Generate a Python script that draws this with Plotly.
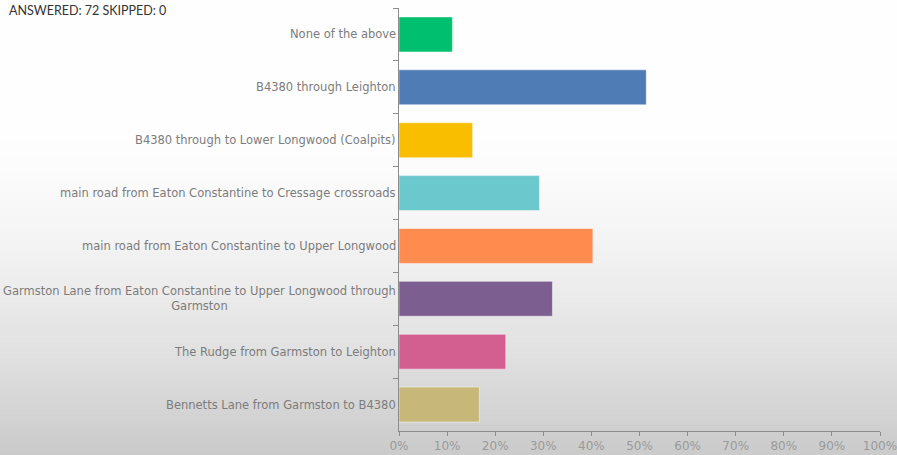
import plotly.graph_objects as go

# ---- data (top to bottom, as shown) ----
categories = [
    "None of the above",
    "B4380 through Leighton",
    "B4380 through to Lower Longwood (Coalpits)",
    "main road from Eaton Constantine to Cressage crossroads",
    "main road from Eaton Constantine to Upper Longwood",
    "Garmston Lane from Eaton Constantine to Upper Longwood through<br>Garmston",
    "The Rudge from Garmston to Leighton",
    "Bennetts Lane from Garmston to B4380",
]
percent_values = [11.1, 51.4, 15.3, 29.2, 40.3, 31.9, 22.2, 16.7]
bar_colors = ["#00BF6F", "#507CB6", "#F9BE00", "#6BC8CD",
              "#FF8B4F", "#7D5E90", "#D25F90", "#C7B879"]
x_tick_values = [0, 10, 20, 30, 40, 50, 60, 70, 80, 90, 100]
x_tick_labels = [f"{v}%" for v in x_tick_values]
header_text = "ANSWERED: 72 SKIPPED: 0"

# ---- layout geometry ----
W, H = 897, 455
ML, MR, MT, MB = 399, 17, 8, 24
PW, PH = W - ML - MR, H - MT - MB

fig = go.Figure(
    go.Bar(
        y=categories,
        x=percent_values,
        orientation="h",
        width=0.66,
        marker=dict(color=bar_colors,
                    line=dict(color="rgba(255,255,255,0.45)", width=1)),
        hoverinfo="x+y",
    )
)

# background gradient (white at top, grey at bottom)
shapes = []
N = 90
for i in range(N):
    y0px = i * H / N
    y1px = (i + 1) * H / N
    f = (y0px + y1px) / 2 / H
    t = max(0.0, (f - 0.28) / 0.72)
    g = int(round(254 - 52 * t ** 1.5))
    shapes.append(dict(
        type="rect", xref="paper", yref="paper", layer="below",
        x0=-ML / PW - 0.01, x1=1 + MR / PW + 0.01,
        y0=(H - MB - y1px) / PH - 0.001, y1=(H - MB - y0px) / PH + 0.001,
        line=dict(width=0), fillcolor=f"rgb({g},{g},{g})",
    ))

annotations = [
    dict(text=header_text, xref="paper", yref="paper",
         x=-ML / PW + 7 / PW, y=1 + MT / PH - 1 / PH,
         xanchor="left", yanchor="top", showarrow=False,
         font=dict(family="Lato, DejaVu Sans, sans-serif", size=12.5, color="#333333")),
]
for c in categories:
    annotations.append(dict(
        text=c, xref="paper", yref="y", x=0, y=c,
        xanchor="right", yanchor="middle", xshift=-1, align="center",
        showarrow=False,
        font=dict(family="DejaVu Sans, sans-serif", size=11.5, color="#7c7c7c"),
    ))

fig.update_layout(
    width=W, height=H,
    margin=dict(l=ML, r=MR, t=MT, b=MB, pad=0, autoexpand=False),
    paper_bgcolor="#ffffff",
    plot_bgcolor="rgba(0,0,0,0)",
    showlegend=False,
    shapes=shapes,
    annotations=annotations,
    xaxis=dict(
        range=[0, 100], tickmode="array",
        tickvals=x_tick_values, ticktext=x_tick_labels,
        showgrid=False, zeroline=False, automargin=False,
        showline=True, linecolor="#8c8c8c", linewidth=1,
        ticks="outside", ticklen=4, tickcolor="#8c8c8c",
        ticklabeloverflow="allow",
        tickfont=dict(family="DejaVu Sans, sans-serif", size=12, color="#9a9a9a"),
        fixedrange=True,
    ),
    yaxis=dict(
        type="category",
        categoryorder="array", categoryarray=categories,
        range=[len(categories) - 0.5, -0.5],
        showticklabels=False, automargin=False,
        showgrid=False, zeroline=False,
        showline=True, linecolor="#8c8c8c", linewidth=1,
        ticks="outside", ticklen=5, tickcolor="#8c8c8c",
        tickson="boundaries",
        fixedrange=True,
    ),
)

fig.write_html(
    "out.html",
    config={"displayModeBar": False},
    post_script="document.body.style.margin='0';document.body.style.overflow='hidden';",
)
